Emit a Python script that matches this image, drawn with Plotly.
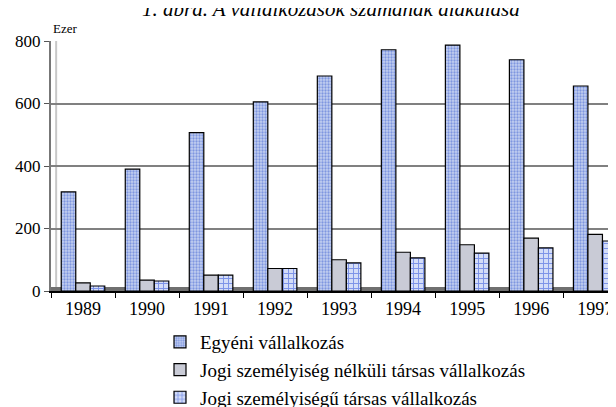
import plotly.graph_objects as go

years = ["1989", "1990", "1991", "1992", "1993", "1994", "1995", "1996", "1997"]
egyeni = [317, 390, 507, 605, 688, 772, 787, 740, 656]
jogi_nelkuli = [26, 35, 51, 72, 100, 124, 148, 169, 181]
jogi_szemelyisegu = [16, 32, 51, 72, 90, 106, 121, 138, 160]
series_names = ["Egyéni vállalkozás",
                "Jogi személyiség nélküli társas vállalkozás",
                "Jogi személyiségű társas vállalkozás"]
y_ticks = [0, 200, 400, 600, 800]
title_text = "1. ábra. A vállalkozások számának alakulása"

SERIF = "'Liberation Serif', 'Times New Roman', serif"
PLOT_L, PLOT_T, PLOT_B = 43, 33, 283
PW, PH = 616 - PLOT_L, PLOT_B - PLOT_T

fig = go.Figure()
fig.add_trace(go.Bar(
    x=years, y=egyeni, name=series_names[0], legendgroup="a",
    marker=dict(color="#9fb3e8", line=dict(color="#000000", width=1.2),
                pattern=dict(shape=".", fgcolor="#3a5cd0", bgcolor="#c4d0f0", size=3, solidity=0.45)),
))
fig.add_trace(go.Bar(
    x=years, y=jogi_nelkuli, name=series_names[1], legendgroup="b",
    marker=dict(color="#c9cbd6", line=dict(color="#000000", width=1.2)),
))
fig.add_trace(go.Bar(
    x=years, y=jogi_szemelyisegu, name=series_names[2], legendgroup="c",
    marker=dict(color="#6f8ae6", line=dict(color="#000000", width=1.2),
                pattern=dict(shape="+", fgcolor="#2448d8", bgcolor="#d4ddf8", size=5, solidity=0.35)),
))

fig.update_layout(
    width=616, height=407,
    margin=dict(l=PLOT_L, r=0, t=PLOT_T, b=407 - PLOT_B, autoexpand=False),
    paper_bgcolor="white", plot_bgcolor="white",
    barmode="group", bargap=0.32, bargroupgap=0,
    font=dict(family=SERIF, size=17, color="#000000"),
    showlegend=True,
    legend=dict(
        orientation="v",
        x=(152 - PLOT_L) / PW, y=(PLOT_B - 315) / PH, xanchor="left", yanchor="top",
        font=dict(family=SERIF, size=19), tracegroupgap=0,
        bgcolor="rgba(0,0,0,0)", itemwidth=30,
    ),
    xaxis=dict(
        type="category", range=[-0.5, 8.45], tickson="boundaries",
        ticks="outside", ticklen=5, tickcolor="#000000", tickwidth=1,
        showline=True, linecolor="#000000", linewidth=2, tickangle=0,
        showgrid=False, tickfont=dict(family=SERIF, size=18),
    ),
    yaxis=dict(
        range=[0, 800], tickvals=y_ticks, ticktext=[str(v) for v in y_ticks],
        ticks="outside", ticklen=5, tickcolor="#555555",
        showline=True, linecolor="#777777", linewidth=2,
        showgrid=True, gridcolor="#808080", gridwidth=2,
        zeroline=False, tickfont=dict(family=SERIF, size=17),
    ),
    annotations=[
        dict(text="<i>" + title_text + "</i>", xref="paper", yref="paper",
             x=(323 - PLOT_L) / PW, y=1,
             xanchor="center", yanchor="bottom", yshift=18, showarrow=False,
             font=dict(family=SERIF, size=21, color="#000000")),
        dict(text="Ezer", xref="paper", yref="paper", x=0, y=1,
             xanchor="left", yanchor="bottom", yshift=3, showarrow=False,
             font=dict(family=SERIF, size=13, color="#000000")),
    ],
    shapes=[
        dict(type="rect", xref="paper", yref="paper", x0=0, x1=1, y0=0, y1=0.016,
             fillcolor="#707070", line=dict(width=0), layer="below"),
        dict(type="line", xref="paper", yref="paper", x0=0.009, x1=0.009, y0=0.016, y1=1,
             line=dict(color="#c8c8c8", width=2), layer="below"),
    ],
)

fig.write_html("out.html")
